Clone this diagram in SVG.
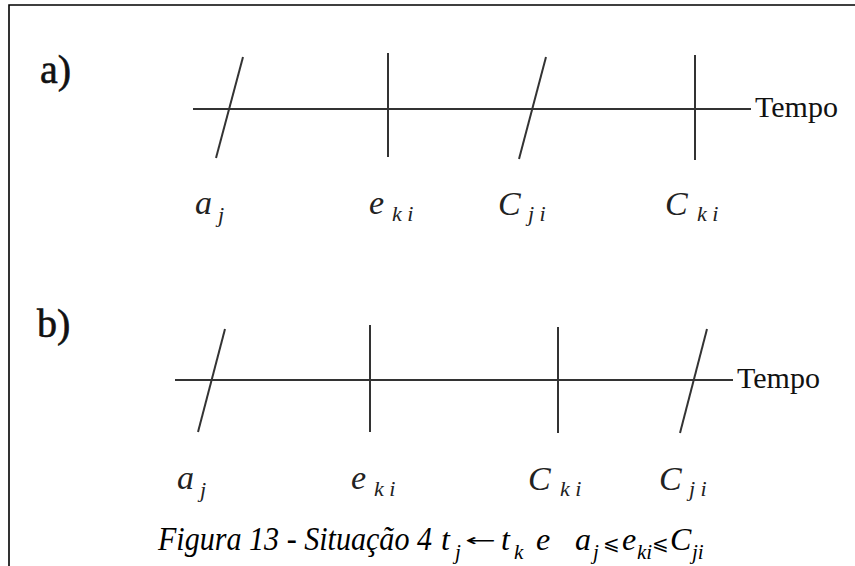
<svg xmlns="http://www.w3.org/2000/svg" width="855" height="566" viewBox="0 0 855 566">
<style>
.frame{stroke:#000;stroke-width:1.6;fill:none}
.axis{stroke:#333;stroke-width:2;fill:none}
.tick{stroke:#333;stroke-width:2;fill:none}
.pl{font-family:"Liberation Serif","Times New Roman",serif;font-size:40px;fill:#111;stroke:#111;stroke-width:0.6}
.tempo{font-family:"Liberation Serif","Times New Roman",serif;font-size:30px;fill:#111}
.lab{font-family:"Liberation Serif","Times New Roman",serif;font-style:italic;font-size:34px;fill:#222}
.sub{font-family:"Liberation Serif","Times New Roman",serif;font-style:italic;font-size:22px;fill:#222}
.cap{font-family:"Liberation Serif","Times New Roman",serif;font-style:italic;font-size:33px;fill:#000}
.capm{font-family:"Liberation Serif","Times New Roman",serif;font-style:italic;font-size:32px;fill:#000}
.caps{font-family:"Liberation Serif","Times New Roman",serif;font-style:italic;font-size:21px;fill:#000}
.sym{font-family:"DejaVu Sans",sans-serif;font-size:20px;fill:#000}
.arr{font-family:"DejaVu Sans",sans-serif;font-size:17px;fill:#000}
</style>
<rect width="855" height="566" fill="#fff"/>
<g id="frame">
<path class="frame" d="M9,566 V5 H855"/>
</g>
<g id="panel-a">
<text class="pl" x="40" y="83">a)</text>
<g id="connectors-a">
<line class="axis" x1="193" y1="109" x2="751" y2="109"/>
</g>
<g id="a-aj"><line class="tick" x1="243" y1="57" x2="216" y2="158"/><text class="lab" x="195" y="214">a</text><text class="sub" x="218" y="222">j</text></g>
<g id="a-eki"><line class="tick" x1="388" y1="53" x2="388" y2="157"/><text class="lab" x="369" y="214">e</text><text class="sub" x="392" y="221">k i</text></g>
<g id="a-Cji"><line class="tick" x1="546" y1="57" x2="519" y2="159"/><text class="lab" x="498" y="215">C</text><text class="sub" x="528" y="221">j i</text></g>
<g id="a-Cki"><line class="tick" x1="695" y1="55" x2="695" y2="160"/><text class="lab" x="665" y="215">C</text><text class="sub" x="697" y="221">k i</text></g>
<text class="tempo" x="755" y="117">Tempo</text>
</g>
<g id="panel-b">
<text class="pl" x="37" y="337">b)</text>
<g id="connectors-b">
<line class="axis" x1="175" y1="380" x2="733" y2="380"/>
</g>
<g id="b-aj"><line class="tick" x1="225" y1="329" x2="198" y2="432"/><text class="lab" x="177" y="489">a</text><text class="sub" x="200" y="497">j</text></g>
<g id="b-eki"><line class="tick" x1="370" y1="325" x2="370" y2="432"/><text class="lab" x="351" y="489">e</text><text class="sub" x="374" y="496">k i</text></g>
<g id="b-Cki"><line class="tick" x1="558" y1="327" x2="558" y2="433"/><text class="lab" x="528" y="490">C</text><text class="sub" x="560" y="496">k i</text></g>
<g id="b-Cji"><line class="tick" x1="707" y1="329" x2="680" y2="433"/><text class="lab" x="659" y="490">C</text><text class="sub" x="689" y="496">j i</text></g>
<text class="tempo" x="737" y="388">Tempo</text>
</g>
<g id="caption">
<text class="cap" x="158" y="550" textLength="274" lengthAdjust="spacingAndGlyphs">Figura 13 - Situação 4</text>
<text class="capm" x="441" y="550">t</text><text class="caps" x="455" y="559">j</text>
<text class="arr" x="465" y="546" textLength="31" lengthAdjust="spacingAndGlyphs">←</text>
<text class="capm" x="501" y="550">t</text><text class="caps" x="514" y="559">k</text>
<text class="capm" x="536" y="550">e</text>
<text class="capm" x="575" y="550">a</text><text class="caps" x="593" y="559">j</text>
<text class="sym" x="603" y="550">⩽</text>
<text class="capm" x="622" y="550">e</text><text class="caps" x="637" y="559">ki</text>
<text class="sym" x="652" y="550">⩽</text>
<text class="capm" x="670" y="550">C</text><text class="caps" x="692" y="559">ji</text>
</g>
</svg>
